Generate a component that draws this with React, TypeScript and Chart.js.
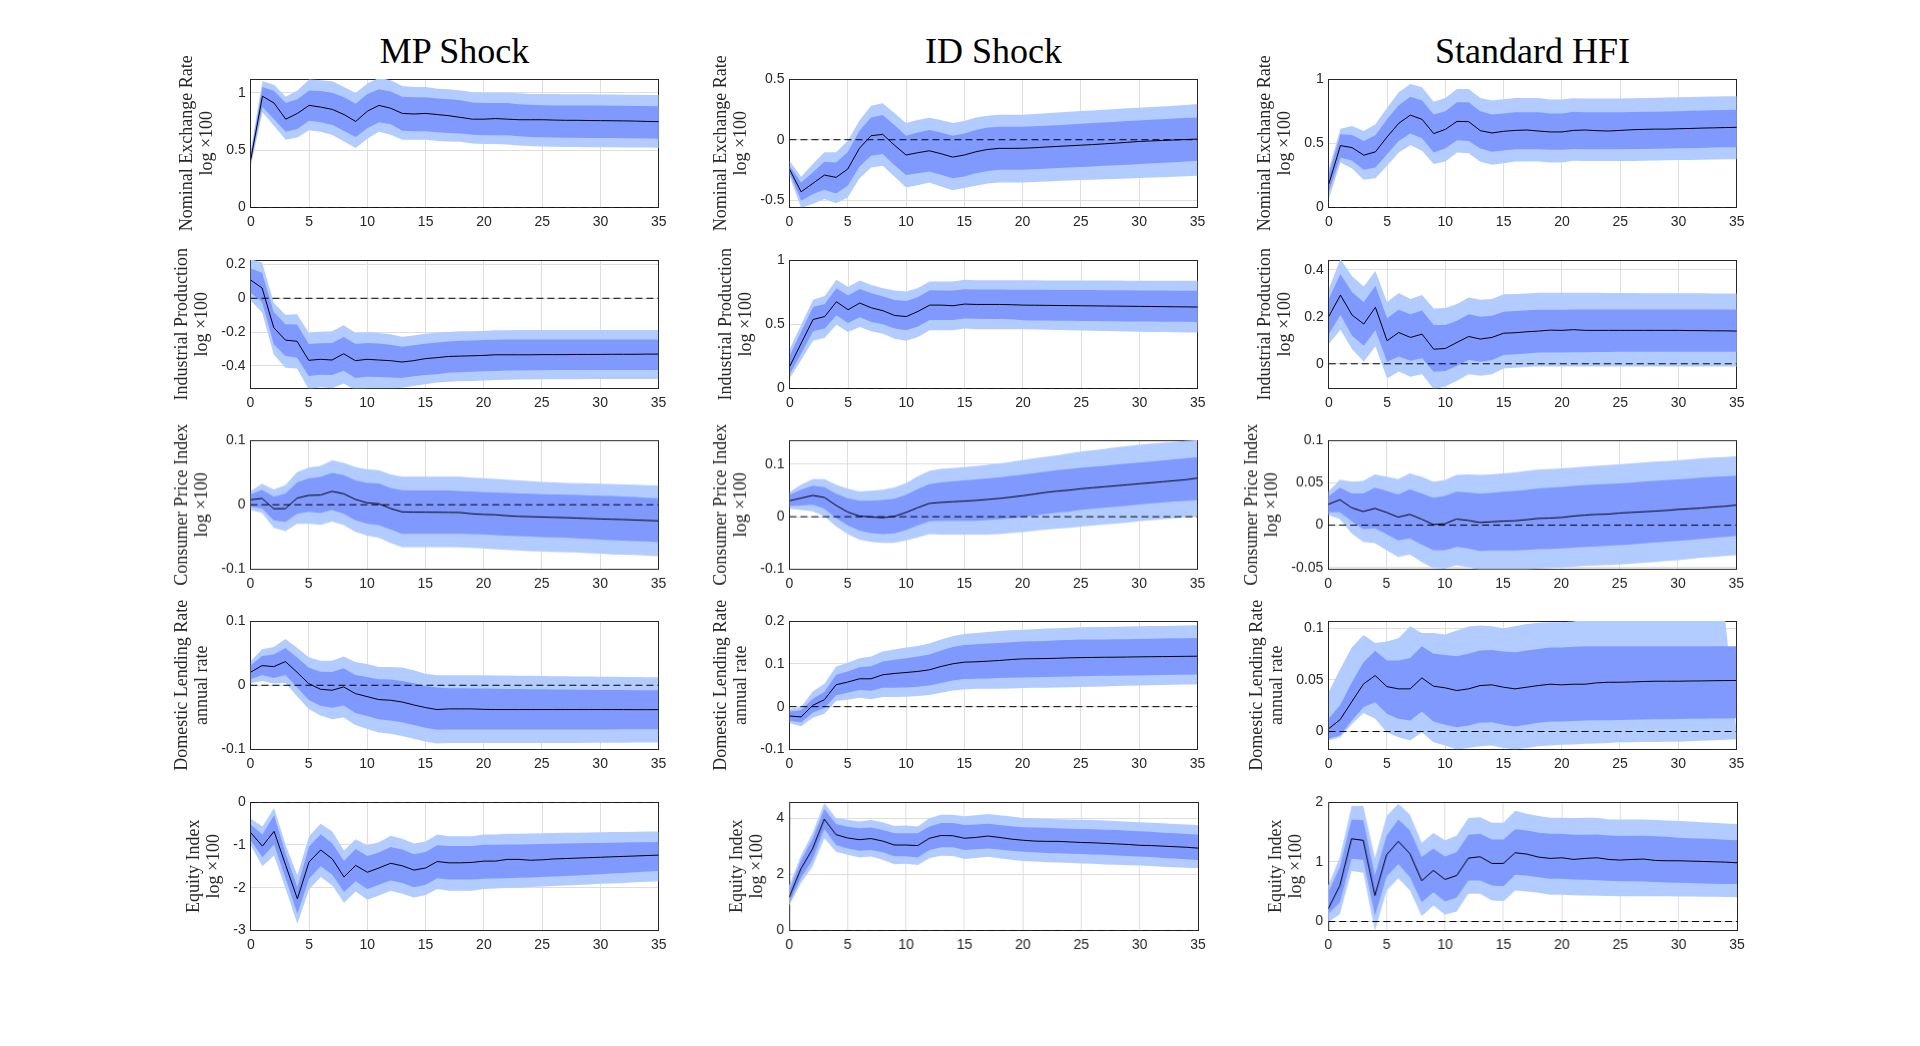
import { useEffect, useRef } from "react";
import { Chart, registerables } from "chart.js";

Chart.register(...registerables);

// horizons (months after the shock)
const HORIZONS = [
  0, 1, 2, 3, 4, 5, 6, 7, 8, 9, 10, 11, 12, 13, 14, 15, 16, 17, 18, 19, 20, 21, 22, 23, 24, 25, 26, 27, 28, 29,
  30, 31, 32, 33, 34, 35,
];

const SHOCKS = ["MP Shock", "ID Shock", "Standard HFI"];

const ROW_LABELS = [
  ["Nominal Exchange Rate", "log \u00d7100"],
  ["Industrial Production", "log \u00d7100"],
  ["Consumer Price Index", "log \u00d7100"],
  ["Domestic Lending Rate", "annual rate"],
  ["Equity Index", "log \u00d7100"],
];

// ---- MP shock ----
const mpNerMid = [
  0.42, 0.97, 0.91, 0.77, 0.82, 0.89, 0.875, 0.855, 0.81, 0.75, 0.84, 0.89,
  0.865, 0.82, 0.815, 0.82, 0.81, 0.8, 0.785, 0.77, 0.77, 0.775, 0.77, 0.765,
  0.765, 0.765, 0.762, 0.76, 0.76, 0.758, 0.757, 0.756, 0.755, 0.753, 0.75, 0.748,
];
const mpNerDarkHi = [
  0.47, 1.05, 1.015, 0.91, 0.944, 1.02, 1.015, 1.0, 0.96, 0.905, 0.99, 1.03,
  1.01, 0.965, 0.96, 0.96, 0.95, 0.944, 0.935, 0.915, 0.91, 0.91, 0.91, 0.9,
  0.895, 0.892, 0.89, 0.89, 0.89, 0.888, 0.888, 0.887, 0.886, 0.885, 0.884, 0.883,
];
const mpNerDarkLo = [
  0.39, 0.876, 0.77, 0.66, 0.685, 0.756, 0.744, 0.72, 0.667, 0.615, 0.69, 0.744,
  0.726, 0.67, 0.665, 0.665, 0.655, 0.65, 0.645, 0.635, 0.63, 0.63, 0.63, 0.62,
  0.615, 0.612, 0.61, 0.608, 0.607, 0.606, 0.605, 0.605, 0.604, 0.603, 0.602, 0.6,
];
const mpNerLightHi = [
  0.5, 1.1, 1.07, 0.965, 1.02, 1.115, 1.11, 1.1, 1.05, 0.997, 1.08, 1.13,
  1.11, 1.06, 1.05, 1.05, 1.035, 1.03, 1.02, 1.005, 1.0, 1.0, 1.0, 0.995,
  0.99, 0.99, 0.99, 0.988, 0.987, 0.986, 0.985, 0.984, 0.983, 0.982, 0.981, 0.98,
];
const mpNerLightLo = [
  0.36, 0.83, 0.71, 0.59, 0.61, 0.673, 0.66, 0.632, 0.576, 0.518, 0.6, 0.66,
  0.635, 0.59, 0.59, 0.59, 0.58, 0.576, 0.572, 0.558, 0.553, 0.553, 0.55, 0.54,
  0.535, 0.532, 0.53, 0.528, 0.527, 0.526, 0.525, 0.525, 0.524, 0.523, 0.522, 0.52,
];

const mpIpMid = [
  0.109, 0.061, -0.174, -0.248, -0.255, -0.368, -0.362, -0.366, -0.329, -0.37, -0.362, -0.366,
  -0.37, -0.378, -0.37, -0.358, -0.352, -0.345, -0.343, -0.341, -0.339, -0.335, -0.335, -0.335,
  -0.335, -0.334, -0.334, -0.334, -0.333, -0.333, -0.333, -0.332, -0.332, -0.332, -0.331, -0.331,
];
const mpIpDarkHi = [
  0.178, 0.152, -0.081, -0.154, -0.156, -0.271, -0.267, -0.265, -0.23, -0.271, -0.265, -0.268,
  -0.275, -0.287, -0.279, -0.269, -0.262, -0.257, -0.252, -0.25, -0.248, -0.246, -0.245, -0.245,
  -0.244, -0.244, -0.244, -0.244, -0.244, -0.244, -0.244, -0.244, -0.244, -0.244, -0.244, -0.244,
];
const mpIpDarkLo = [
  0.034, -0.022, -0.273, -0.343, -0.352, -0.461, -0.453, -0.455, -0.43, -0.473, -0.465, -0.467,
  -0.47, -0.473, -0.463, -0.455, -0.45, -0.441, -0.438, -0.435, -0.433, -0.431, -0.429, -0.428,
  -0.427, -0.427, -0.426, -0.426, -0.426, -0.426, -0.425, -0.425, -0.425, -0.425, -0.425, -0.425,
];
const mpIpLightHi = [
  0.232, 0.212, -0.026, -0.097, -0.095, -0.204, -0.198, -0.196, -0.16, -0.204, -0.202, -0.206,
  -0.214, -0.228, -0.22, -0.21, -0.204, -0.2, -0.196, -0.195, -0.194, -0.19, -0.189, -0.188,
  -0.188, -0.188, -0.188, -0.188, -0.188, -0.188, -0.188, -0.188, -0.188, -0.188, -0.188, -0.188,
];
const mpIpLightLo = [
  -0.012, -0.085, -0.333, -0.412, -0.416, -0.54, -0.527, -0.533, -0.505, -0.545, -0.535, -0.535,
  -0.535, -0.53, -0.52, -0.51, -0.5, -0.495, -0.49, -0.49, -0.488, -0.485, -0.483, -0.482,
  -0.481, -0.48, -0.48, -0.48, -0.48, -0.479, -0.479, -0.479, -0.478, -0.478, -0.478, -0.478,
];

const mpCpiMid = [
  0.0078, 0.0098, -0.0062, -0.006, 0.0103, 0.0145, 0.015, 0.0207, 0.017, 0.0083, 0.003, 0.0016,
  -0.0057, -0.011, -0.0114, -0.0115, -0.0116, -0.0118, -0.012, -0.014, -0.015, -0.0155, -0.017, -0.018,
  -0.0185, -0.019, -0.0195, -0.02, -0.0207, -0.0213, -0.022, -0.0225, -0.023, -0.0237, -0.0243, -0.025,
];
const mpCpiDarkHi = [
  0.016, 0.023, 0.0124, 0.017, 0.0346, 0.041, 0.043, 0.0496, 0.046, 0.0377, 0.034, 0.033,
  0.026, 0.0227, 0.022, 0.022, 0.022, 0.022, 0.021, 0.0205, 0.0196, 0.019, 0.0183, 0.0176,
  0.017, 0.0165, 0.016, 0.0155, 0.015, 0.0145, 0.014, 0.0135, 0.013, 0.012, 0.011, 0.0103,
];
const mpCpiDarkLo = [
  -0.003, -0.0057, -0.024, -0.027, -0.014, -0.011, -0.013, -0.008, -0.014, -0.024, -0.029, -0.0315,
  -0.038, -0.045, -0.045, -0.045, -0.045, -0.045, -0.045, -0.0455, -0.046, -0.047, -0.048, -0.0486,
  -0.049, -0.05, -0.0505, -0.051, -0.052, -0.053, -0.054, -0.055, -0.0555, -0.0565, -0.057, -0.058,
];
const mpCpiLightHi = [
  0.021, 0.0326, 0.0238, 0.0305, 0.0506, 0.0574, 0.06, 0.0687, 0.065, 0.0584, 0.0548, 0.0537,
  0.047, 0.0434, 0.0434, 0.0434, 0.0434, 0.0434, 0.0434, 0.042, 0.0413, 0.04, 0.039, 0.0377,
  0.0365, 0.0355, 0.0345, 0.034, 0.0335, 0.033, 0.0326, 0.032, 0.0315, 0.031, 0.0305, 0.03,
];
const mpCpiLightLo = [
  -0.0078, -0.013, -0.0357, -0.041, -0.0295, -0.029, -0.031, -0.026, -0.0315, -0.042, -0.048, -0.051,
  -0.059, -0.0656, -0.0656, -0.0656, -0.0656, -0.0656, -0.066, -0.067, -0.0677, -0.069, -0.07, -0.071,
  -0.072, -0.0725, -0.073, -0.0735, -0.074, -0.075, -0.076, -0.077, -0.0775, -0.078, -0.079, -0.0796,
];

const mpLendMid = [
  0.0202, 0.0306, 0.029, 0.0368, 0.0202, 0.0026, -0.0062, -0.0078, -0.0026, -0.013, -0.0176, -0.0223,
  -0.0233, -0.026, -0.0306, -0.0347, -0.0378, -0.0368, -0.0368, -0.0368, -0.0375, -0.0378, -0.0378, -0.0378,
  -0.0378, -0.0378, -0.0378, -0.0378, -0.0378, -0.0378, -0.0378, -0.0378, -0.0379, -0.038, -0.038, -0.038,
];
const mpLendDarkHi = [
  0.0306, 0.0456, 0.048, 0.058, 0.043, 0.0275, 0.0212, 0.0207, 0.0264, 0.016, 0.013, 0.0093,
  0.0088, 0.0067, 0.003, -0.001, -0.0036, -0.0047, -0.0047, -0.005, -0.0052, -0.0055, -0.0057, -0.006,
  -0.0062, -0.0064, -0.0066, -0.0068, -0.007, -0.0071, -0.0072, -0.0074, -0.0075, -0.0076, -0.0077, -0.0078,
];
const mpLendDarkLo = [
  0.0093, 0.016, 0.0114, 0.016, -0.003, -0.0228, -0.032, -0.035, -0.0316, -0.043, -0.048, -0.053,
  -0.055, -0.0575, -0.0617, -0.066, -0.0694, -0.069, -0.069, -0.069, -0.069, -0.069, -0.069, -0.069,
  -0.069, -0.069, -0.069, -0.069, -0.069, -0.0688, -0.0688, -0.0687, -0.0686, -0.0685, -0.0685, -0.0684,
];
const mpLendLightHi = [
  0.0368, 0.056, 0.0596, 0.072, 0.0585, 0.0435, 0.038, 0.038, 0.0446, 0.0363, 0.033, 0.0285,
  0.0285, 0.0275, 0.0233, 0.018, 0.0155, 0.0155, 0.0155, 0.0155, 0.0155, 0.015, 0.015, 0.0148,
  0.0146, 0.0144, 0.0142, 0.014, 0.0138, 0.0136, 0.0134, 0.0132, 0.013, 0.0128, 0.0126, 0.0124,
];
const mpLendLightLo = [
  0.003, 0.0067, 0.0026, 0.0036, -0.017, -0.0368, -0.047, -0.053, -0.05, -0.062, -0.068, -0.0736,
  -0.0756, -0.079, -0.0834, -0.0876, -0.0907, -0.09, -0.09, -0.09, -0.09, -0.09, -0.09, -0.09,
  -0.09, -0.09, -0.0898, -0.0898, -0.0897, -0.0896, -0.0895, -0.0894, -0.0893, -0.0892, -0.0891, -0.089,
];

const mpEqMid = [
  -0.717, -1.03, -0.686, -1.48, -2.26, -1.4, -1.12, -1.33, -1.75, -1.48, -1.64, -1.54,
  -1.43, -1.49, -1.59, -1.54, -1.39, -1.42, -1.42, -1.41, -1.38, -1.38, -1.34, -1.34,
  -1.36, -1.35, -1.33, -1.32, -1.31, -1.3, -1.29, -1.28, -1.27, -1.26, -1.25, -1.24,
];
const mpEqDarkHi = [
  -0.53, -0.756, -0.31, -1.21, -1.99, -1.04, -0.75, -0.97, -1.38, -1.1, -1.26, -1.18,
  -1.05, -1.11, -1.22, -1.17, -1.01, -1.03, -1.03, -1.03, -1.0, -1.0, -0.99, -0.99,
  -0.985, -0.98, -0.975, -0.97, -0.965, -0.96, -0.955, -0.95, -0.945, -0.94, -0.938, -0.935,
];
const mpEqDarkLo = [
  -0.9, -1.29, -0.99, -1.79, -2.61, -1.79, -1.5, -1.7, -2.1, -1.85, -2.03, -1.93,
  -1.83, -1.89, -1.99, -1.93, -1.78, -1.81, -1.81, -1.81, -1.79, -1.785, -1.78, -1.77,
  -1.76, -1.75, -1.74, -1.73, -1.715, -1.7, -1.685, -1.67, -1.655, -1.64, -1.625, -1.61,
];
const mpEqLightHi = [
  -0.39, -0.57, -0.14, -1.01, -1.71, -0.8, -0.51, -0.69, -1.13, -0.87, -1.01, -0.94,
  -0.79, -0.86, -0.97, -0.92, -0.76, -0.8, -0.8, -0.8, -0.76, -0.76, -0.74, -0.74,
  -0.735, -0.73, -0.725, -0.72, -0.715, -0.71, -0.705, -0.7, -0.7, -0.695, -0.69, -0.69,
];
const mpEqLightLo = [
  -1.01, -1.5, -1.25, -2.03, -2.84, -2.04, -1.75, -1.95, -2.35, -2.09, -2.28, -2.18,
  -2.07, -2.14, -2.23, -2.17, -2.03, -2.07, -2.07, -2.07, -2.03, -2.02, -2.01, -2.0,
  -1.985, -1.97, -1.96, -1.95, -1.94, -1.925, -1.91, -1.9, -1.89, -1.875, -1.86, -1.85,
];

// ---- ID shock ----
const idNerMid = [
  -0.242, -0.429, -0.36, -0.291, -0.31, -0.242, -0.071, 0.033, 0.044, -0.044, -0.126, -0.107,
  -0.091, -0.115, -0.143, -0.126, -0.099, -0.08, -0.071, -0.071, -0.07, -0.066, -0.06, -0.055,
  -0.05, -0.045, -0.04, -0.034, -0.028, -0.021, -0.014, -0.01, -0.006, -0.002, 0.002, 0.005,
];
const idNerDarkHi = [
  -0.214, -0.352, -0.27, -0.181, -0.187, -0.104, 0.074, 0.184, 0.203, 0.121, 0.033, 0.06,
  0.08, 0.06, 0.033, 0.052, 0.08, 0.1, 0.107, 0.107, 0.107, 0.11, 0.115, 0.12,
  0.126, 0.132, 0.137, 0.142, 0.148, 0.154, 0.159, 0.164, 0.169, 0.174, 0.179, 0.184,
];
const idNerDarkLo = [
  -0.27, -0.503, -0.448, -0.412, -0.442, -0.379, -0.223, -0.132, -0.118, -0.209, -0.291, -0.277,
  -0.261, -0.288, -0.318, -0.302, -0.277, -0.258, -0.247, -0.247, -0.247, -0.243, -0.238, -0.233,
  -0.229, -0.225, -0.22, -0.215, -0.21, -0.205, -0.2, -0.195, -0.19, -0.185, -0.18, -0.176,
];
const idNerLightHi = [
  -0.173, -0.305, -0.2, -0.104, -0.104, -0.008, 0.157, 0.28, 0.3, 0.22, 0.137, 0.162,
  0.181, 0.162, 0.137, 0.154, 0.184, 0.198, 0.206, 0.206, 0.206, 0.212, 0.218, 0.225,
  0.23, 0.236, 0.241, 0.247, 0.253, 0.259, 0.264, 0.269, 0.274, 0.279, 0.286, 0.294,
];
const idNerLightLo = [
  -0.297, -0.56, -0.53, -0.489, -0.522, -0.475, -0.319, -0.228, -0.214, -0.302, -0.393, -0.374,
  -0.352, -0.385, -0.415, -0.398, -0.379, -0.36, -0.352, -0.352, -0.352, -0.348, -0.344, -0.34,
  -0.336, -0.332, -0.329, -0.326, -0.323, -0.32, -0.316, -0.312, -0.308, -0.304, -0.3, -0.297,
];

const idIpMid = [
  0.173, 0.356, 0.537, 0.56, 0.675, 0.613, 0.665, 0.628, 0.605, 0.568, 0.56, 0.6,
  0.649, 0.649, 0.644, 0.657, 0.654, 0.654, 0.654, 0.652, 0.649, 0.648, 0.647, 0.646,
  0.645, 0.644, 0.643, 0.642, 0.641, 0.64, 0.639, 0.638, 0.637, 0.636, 0.635, 0.634,
];
const idIpDarkHi = [
  0.257, 0.448, 0.634, 0.657, 0.78, 0.723, 0.775, 0.741, 0.715, 0.688, 0.68, 0.712,
  0.764, 0.762, 0.762, 0.772, 0.77, 0.77, 0.77, 0.769, 0.769, 0.768, 0.768, 0.767,
  0.767, 0.766, 0.766, 0.765, 0.764, 0.764, 0.763, 0.762, 0.762, 0.761, 0.76, 0.76,
];
const idIpDarkLo = [
  0.113, 0.275, 0.445, 0.466, 0.571, 0.51, 0.555, 0.518, 0.5, 0.466, 0.453, 0.482,
  0.534, 0.534, 0.534, 0.545, 0.542, 0.541, 0.54, 0.538, 0.531, 0.53, 0.529, 0.528,
  0.527, 0.526, 0.525, 0.524, 0.523, 0.522, 0.521, 0.521, 0.52, 0.519, 0.519, 0.518,
];
const idIpLightHi = [
  0.309, 0.5, 0.691, 0.72, 0.846, 0.79, 0.84, 0.806, 0.78, 0.762, 0.754, 0.783,
  0.832, 0.832, 0.832, 0.846, 0.843, 0.843, 0.843, 0.842, 0.842, 0.842, 0.841, 0.841,
  0.841, 0.84, 0.84, 0.84, 0.84, 0.839, 0.839, 0.839, 0.838, 0.838, 0.838, 0.838,
];
const idIpLightLo = [
  0.079, 0.225, 0.372, 0.395, 0.497, 0.44, 0.479, 0.445, 0.427, 0.387, 0.372, 0.4,
  0.453, 0.453, 0.453, 0.466, 0.461, 0.461, 0.461, 0.461, 0.461, 0.459, 0.457, 0.455,
  0.453, 0.451, 0.449, 0.447, 0.445, 0.443, 0.441, 0.44, 0.439, 0.437, 0.436, 0.435,
];

const idCpiMid = [
  0.0304, 0.0354, 0.0405, 0.0367, 0.0215, 0.0089, 0.0013, -0.0006, -0.0019, 0.0006, 0.0082, 0.0171,
  0.0253, 0.0272, 0.0285, 0.0297, 0.031, 0.0329, 0.0348, 0.0373, 0.0399, 0.043, 0.0462, 0.0487,
  0.0506, 0.0532, 0.0551, 0.057, 0.0589, 0.0608, 0.0627, 0.0646, 0.0665, 0.0684, 0.0703, 0.0734,
];
const idCpiDarkHi = [
  0.0418, 0.0513, 0.0589, 0.0563, 0.0437, 0.0354, 0.0304, 0.0304, 0.0316, 0.0342, 0.0418, 0.0525,
  0.062, 0.0652, 0.067, 0.069, 0.071, 0.0728, 0.075, 0.0775, 0.08, 0.083, 0.086, 0.0885,
  0.0905, 0.093, 0.095, 0.097, 0.099, 0.101, 0.103, 0.105, 0.107, 0.109, 0.111, 0.113,
];
const idCpiDarkLo = [
  0.0203, 0.0215, 0.0228, 0.0152, -0.0025, -0.0165, -0.0266, -0.031, -0.0329, -0.0316, -0.0253, -0.0165,
  -0.0089, -0.0076, -0.0076, -0.0076, -0.0076, -0.0065, -0.005, -0.003, -0.001, 0.002, 0.005, 0.008,
  0.01, 0.013, 0.015, 0.017, 0.019, 0.021, 0.023, 0.025, 0.027, 0.029, 0.03, 0.032,
];
const idCpiLightHi = [
  0.0468, 0.0608, 0.0715, 0.0715, 0.0608, 0.0532, 0.0481, 0.0494, 0.0513, 0.0557, 0.0639, 0.0766,
  0.0873, 0.0911, 0.0925, 0.0943, 0.0965, 0.0987, 0.101, 0.1045, 0.108, 0.111, 0.114, 0.117,
  0.1205, 0.124, 0.1265, 0.129, 0.132, 0.1345, 0.137, 0.1388, 0.1405, 0.142, 0.144, 0.1455,
];
const idCpiLightLo = [
  0.0152, 0.0127, 0.0101, 0.0006, -0.0184, -0.0329, -0.0437, -0.0481, -0.05, -0.05, -0.0449, -0.0392,
  -0.0329, -0.0342, -0.0342, -0.0342, -0.0342, -0.0342, -0.0329, -0.031, -0.0291, -0.0268, -0.0247, -0.0228,
  -0.021, -0.019, -0.017, -0.015, -0.013, -0.011, -0.009, -0.007, -0.005, -0.003, -0.001, 0.001,
];

const idLendMid = [
  -0.0217, -0.024, 0.0031, 0.0163, 0.0512, 0.0574, 0.0651, 0.0651, 0.0744, 0.0775, 0.0798, 0.0822,
  0.086, 0.0938, 0.1, 0.1039, 0.1047, 0.1062, 0.1078, 0.11, 0.1116, 0.112, 0.1124, 0.113,
  0.114, 0.1145, 0.115, 0.1153, 0.1155, 0.1159, 0.1163, 0.1166, 0.1169, 0.1172, 0.1175, 0.1178,
];
const idLendDarkHi = [
  -0.011, -0.0085, 0.0186, 0.0341, 0.0744, 0.0822, 0.0922, 0.0946, 0.1054, 0.1093, 0.1132, 0.117,
  0.1217, 0.131, 0.1395, 0.1442, 0.1457, 0.1473, 0.1488, 0.1505, 0.1519, 0.1527, 0.1535, 0.155,
  0.1558, 0.1566, 0.1568, 0.157, 0.1573, 0.1576, 0.158, 0.1585, 0.159, 0.1595, 0.16, 0.1605,
];
const idLendDarkLo = [
  -0.0326, -0.0372, -0.014, -0.0031, 0.0264, 0.0326, 0.0388, 0.0372, 0.0442, 0.0442, 0.045, 0.0465,
  0.0496, 0.055, 0.0612, 0.0643, 0.065, 0.0658, 0.0667, 0.0675, 0.0682, 0.0688, 0.0694, 0.07,
  0.0706, 0.0713, 0.0716, 0.0719, 0.0722, 0.0726, 0.0729, 0.0734, 0.0738, 0.0743, 0.0748, 0.0752,
];
const idLendLightHi = [
  -0.0047, -0.0008, 0.0357, 0.0535, 0.0938, 0.1023, 0.1132, 0.117, 0.1287, 0.1333, 0.138, 0.1419,
  0.1473, 0.1566, 0.1643, 0.1698, 0.1721, 0.1744, 0.1767, 0.1783, 0.1798, 0.181, 0.1822, 0.1833,
  0.1843, 0.1853, 0.1858, 0.1862, 0.1867, 0.1871, 0.1876, 0.1881, 0.1886, 0.189, 0.1895, 0.19,
];
const idLendLightLo = [
  -0.0388, -0.0457, -0.0256, -0.0163, 0.0132, 0.0163, 0.0209, 0.0171, 0.0225, 0.0225, 0.0233, 0.0248,
  0.0271, 0.0326, 0.038, 0.0403, 0.0419, 0.0419, 0.0419, 0.0426, 0.0434, 0.0439, 0.0443, 0.0448,
  0.0452, 0.0457, 0.0465, 0.0473, 0.048, 0.0488, 0.0496, 0.0501, 0.0505, 0.051, 0.0515, 0.0519,
];

const idEqMid = [
  1.18, 2.19, 2.9, 3.96, 3.41, 3.29, 3.23, 3.27, 3.18, 3.04, 3.04, 3.02,
  3.28, 3.38, 3.37, 3.28, 3.31, 3.36, 3.31, 3.25, 3.21, 3.18, 3.17, 3.17,
  3.15, 3.13, 3.12, 3.1, 3.08, 3.06, 3.03, 3.02, 3.0, 2.98, 2.96, 2.93,
];
const idEqDarkHi = [
  1.42, 2.49, 3.25, 4.32, 3.79, 3.69, 3.64, 3.66, 3.57, 3.46, 3.46, 3.46,
  3.7, 3.82, 3.82, 3.75, 3.77, 3.8, 3.75, 3.71, 3.67, 3.66, 3.65, 3.64,
  3.62, 3.61, 3.6, 3.58, 3.57, 3.55, 3.53, 3.51, 3.48, 3.46, 3.43, 3.41,
];
const idEqDarkLo = [
  0.98, 1.87, 2.52, 3.61, 3.04, 2.92, 2.84, 2.86, 2.78, 2.64, 2.64, 2.6,
  2.86, 2.96, 2.96, 2.86, 2.89, 2.92, 2.88, 2.84, 2.8, 2.78, 2.76, 2.75,
  2.73, 2.72, 2.7, 2.69, 2.67, 2.65, 2.63, 2.61, 2.58, 2.56, 2.53, 2.51,
];
const idEqLightHi = [
  1.6, 2.66, 3.47, 4.53, 4.0, 3.94, 3.88, 3.93, 3.85, 3.72, 3.73, 3.7,
  3.99, 4.12, 4.12, 4.06, 4.1, 4.14, 4.1, 4.05, 4.0, 3.98, 3.97, 3.96,
  3.95, 3.94, 3.93, 3.91, 3.89, 3.87, 3.85, 3.83, 3.81, 3.79, 3.77, 3.75,
];
const idEqLightLo = [
  0.89, 1.69, 2.28, 3.28, 2.8, 2.69, 2.6, 2.63, 2.52, 2.36, 2.37, 2.33,
  2.57, 2.66, 2.65, 2.54, 2.58, 2.62, 2.57, 2.52, 2.47, 2.45, 2.43, 2.42,
  2.4, 2.38, 2.37, 2.35, 2.34, 2.32, 2.31, 2.29, 2.27, 2.25, 2.23, 2.21,
];

// ---- Standard HFI ----
const hfiNerMid = [
  0.183, 0.482, 0.466, 0.407, 0.433, 0.549, 0.655, 0.719, 0.686, 0.575, 0.608, 0.67,
  0.668, 0.598, 0.58, 0.593, 0.6, 0.603, 0.595, 0.588, 0.588, 0.6, 0.603, 0.598,
  0.595, 0.6, 0.605, 0.608, 0.61, 0.61, 0.613, 0.615, 0.618, 0.62, 0.622, 0.624,
];
const hfiNerDarkHi = [
  0.26, 0.57, 0.564, 0.518, 0.562, 0.686, 0.796, 0.861, 0.832, 0.724, 0.75, 0.82,
  0.82, 0.75, 0.724, 0.732, 0.742, 0.742, 0.742, 0.732, 0.732, 0.745, 0.742, 0.742,
  0.742, 0.742, 0.744, 0.745, 0.746, 0.748, 0.75, 0.752, 0.754, 0.756, 0.758, 0.76,
];
const hfiNerDarkLo = [
  0.118, 0.389, 0.363, 0.294, 0.312, 0.415, 0.518, 0.575, 0.539, 0.428, 0.459, 0.523,
  0.518, 0.459, 0.433, 0.443, 0.454, 0.454, 0.454, 0.449, 0.449, 0.456, 0.454, 0.454,
  0.454, 0.454, 0.455, 0.456, 0.457, 0.459, 0.461, 0.462, 0.464, 0.466, 0.468, 0.469,
];
const hfiNerLightHi = [
  0.299, 0.613, 0.634, 0.595, 0.647, 0.776, 0.897, 0.961, 0.936, 0.822, 0.853, 0.923,
  0.923, 0.853, 0.832, 0.843, 0.853, 0.853, 0.853, 0.84, 0.84, 0.85, 0.848, 0.848,
  0.848, 0.848, 0.85, 0.852, 0.854, 0.856, 0.858, 0.86, 0.861, 0.863, 0.865, 0.866,
];
const hfiNerLightLo = [
  0.067, 0.351, 0.304, 0.216, 0.227, 0.325, 0.428, 0.485, 0.441, 0.338, 0.358, 0.428,
  0.423, 0.356, 0.332, 0.345, 0.358, 0.358, 0.358, 0.351, 0.351, 0.363, 0.361, 0.361,
  0.361, 0.361, 0.362, 0.364, 0.365, 0.367, 0.369, 0.37, 0.372, 0.373, 0.375, 0.376,
];

const hfiIpMid = [
  0.201, 0.292, 0.207, 0.169, 0.24, 0.098, 0.133, 0.112, 0.126, 0.062, 0.065, 0.091,
  0.116, 0.105, 0.112, 0.13, 0.132, 0.136, 0.139, 0.143, 0.142, 0.145, 0.142, 0.142,
  0.142, 0.142, 0.142, 0.142, 0.142, 0.142, 0.142, 0.141, 0.141, 0.14, 0.14, 0.139,
];
const hfiIpDarkHi = [
  0.275, 0.382, 0.304, 0.261, 0.332, 0.193, 0.23, 0.211, 0.226, 0.165, 0.165, 0.183,
  0.21, 0.2, 0.204, 0.221, 0.224, 0.227, 0.23, 0.23, 0.23, 0.231, 0.231, 0.231,
  0.231, 0.231, 0.231, 0.231, 0.231, 0.231, 0.231, 0.231, 0.231, 0.231, 0.231, 0.231,
];
const hfiIpDarkLo = [
  0.126, 0.207, 0.119, 0.077, 0.143, 0.0085, 0.031, 0.013, 0.024, -0.034, -0.031, -0.0085,
  0.017, 0.0085, 0.0156, 0.037, 0.04, 0.044, 0.048, 0.048, 0.048, 0.049, 0.049, 0.05,
  0.05, 0.051, 0.051, 0.051, 0.051, 0.051, 0.051, 0.051, 0.051, 0.051, 0.051, 0.051,
];
const hfiIpLightHi = [
  0.318, 0.445, 0.372, 0.328, 0.394, 0.261, 0.301, 0.275, 0.292, 0.235, 0.237, 0.254,
  0.282, 0.272, 0.275, 0.295, 0.297, 0.299, 0.302, 0.302, 0.302, 0.302, 0.302, 0.302,
  0.301, 0.301, 0.301, 0.3, 0.3, 0.3, 0.3, 0.3, 0.3, 0.299, 0.299, 0.299,
];
const hfiIpLightLo = [
  0.084, 0.145, 0.062, 0.0085, 0.074, -0.062, -0.033, -0.055, -0.044, -0.108, -0.096, -0.072,
  -0.044, -0.051, -0.044, -0.02, -0.017, -0.014, -0.011, -0.011, -0.011, -0.011, -0.011, -0.011,
  -0.011, -0.011, -0.011, -0.011, -0.011, -0.011, -0.011, -0.011, -0.011, -0.011, -0.011, -0.011,
];

const hfiCpiMid = [
  0.0244, 0.0299, 0.0205, 0.0161, 0.0197, 0.015, 0.0094, 0.0126, 0.0071, 0.0008, 0.0016, 0.0071,
  0.0055, 0.0031, 0.0039, 0.0047, 0.0051, 0.0063, 0.0079, 0.0083, 0.009, 0.0106, 0.0118, 0.0126,
  0.013, 0.0142, 0.015, 0.0157, 0.0165, 0.0173, 0.0185, 0.0193, 0.0201, 0.0213, 0.0221, 0.0236,
];
const hfiCpiDarkHi = [
  0.0335, 0.0441, 0.0374, 0.0374, 0.0441, 0.0402, 0.0362, 0.0421, 0.0374, 0.0323, 0.0343, 0.0394,
  0.0386, 0.037, 0.0378, 0.0394, 0.0402, 0.0413, 0.0433, 0.0441, 0.0449, 0.0461, 0.0472, 0.0479,
  0.0485, 0.0492, 0.0501, 0.0511, 0.052, 0.053, 0.0539, 0.0549, 0.0559, 0.0567, 0.0575, 0.0583,
];
const hfiCpiDarkLo = [
  0.015, 0.015, 0.0047, -0.0047, -0.0039, -0.0106, -0.0181, -0.0157, -0.0228, -0.0295, -0.0295, -0.0256,
  -0.0276, -0.0303, -0.0299, -0.0299, -0.0299, -0.0291, -0.0283, -0.028, -0.0276, -0.0266, -0.0256, -0.025,
  -0.0243, -0.0236, -0.0226, -0.0216, -0.0205, -0.0195, -0.0185, -0.0173, -0.0161, -0.015, -0.0138, -0.0126,
];
const hfiCpiLightHi = [
  0.0394, 0.0535, 0.0512, 0.052, 0.0598, 0.0571, 0.0543, 0.061, 0.0571, 0.0512, 0.0531, 0.0591,
  0.0598, 0.0591, 0.0598, 0.061, 0.0622, 0.0638, 0.0654, 0.0661, 0.0669, 0.0679, 0.0689, 0.0698,
  0.0708, 0.0717, 0.0727, 0.0738, 0.0748, 0.0756, 0.0764, 0.0776, 0.0787, 0.0795, 0.0803, 0.0811,
];
const hfiCpiLightLo = [
  0.0118, 0.0071, -0.0098, -0.0197, -0.0213, -0.0295, -0.0374, -0.0346, -0.0433, -0.0504, -0.0512, -0.0472,
  -0.0492, -0.0528, -0.0528, -0.0528, -0.0528, -0.0528, -0.0512, -0.0506, -0.05, -0.049, -0.048, -0.0475,
  -0.047, -0.0465, -0.0455, -0.0444, -0.0433, -0.0423, -0.0413, -0.0398, -0.0383, -0.0374, -0.0364, -0.0354,
];

const hfiLendMid = [
  0.0026, 0.0116, 0.029, 0.0461, 0.0542, 0.0435, 0.0413, 0.0413, 0.0519, 0.0439, 0.0423, 0.0397,
  0.0413, 0.0445, 0.0452, 0.0429, 0.0413, 0.0429, 0.0445, 0.0458, 0.0452, 0.0458, 0.0458, 0.0471,
  0.0477, 0.0477, 0.048, 0.0484, 0.0487, 0.0487, 0.0487, 0.0489, 0.049, 0.0492, 0.0493, 0.0494,
];
const hfiLendDarkHi = [
  0.0123, 0.0258, 0.0477, 0.0671, 0.0781, 0.0687, 0.0687, 0.0713, 0.0826, 0.0752, 0.0742, 0.0729,
  0.0752, 0.0784, 0.079, 0.0774, 0.0768, 0.0784, 0.08, 0.0813, 0.0813, 0.082, 0.0826, 0.0826,
  0.0826, 0.0826, 0.0826, 0.0826, 0.0826, 0.0826, 0.0826, 0.0826, 0.0826, 0.0826, 0.0826, 0.0826,
];
const hfiLendDarkLo = [
  -0.0071, -0.0039, 0.0106, 0.0235, 0.0284, 0.0171, 0.0123, 0.0106, 0.0194, 0.0097, 0.0065, 0.0042,
  0.0058, 0.0084, 0.009, 0.0065, 0.0048, 0.0065, 0.0084, 0.0097, 0.0097, 0.0102, 0.0106, 0.0108,
  0.011, 0.0112, 0.0114, 0.0116, 0.0118, 0.012, 0.0121, 0.0123, 0.0124, 0.0126, 0.0127, 0.0129,
];
const hfiLendLightHi = [
  0.0381, 0.0606, 0.0816, 0.0935, 0.0858, 0.0871, 0.0903, 0.1019, 0.0955, 0.0955, 0.0939, 0.0977,
  0.1016, 0.1026, 0.1019, 0.1, 0.1019, 0.1042, 0.1052, 0.1058, 0.1058, 0.1065, 0.109, 0.109,
  0.109, 0.109, 0.11, 0.11, 0.11, 0.11, 0.11, 0.11, 0.11, 0.11, 0.112, 0.0,
];
const hfiLendLightLo = [
  -0.0087, -0.0055, 0.0074, 0.018, 0.0123, -0.0006, -0.0055, -0.0087, -0.0006, -0.0103, -0.0135, -0.0174,
  -0.016, -0.0142, -0.0135, -0.016, -0.0174, -0.016, -0.0142, -0.0135, -0.0129, -0.0126, -0.0119, -0.0116,
  -0.011, -0.0103, -0.0103, -0.0102, -0.0101, -0.01, -0.0099, -0.0095, -0.009, -0.0085, -0.008, -0.0077,
];

const hfiEqMid = [
  0.212, 0.603, 1.385, 1.358, 0.436, 1.117, 1.341, 1.134, 0.682, 0.855, 0.704, 0.771,
  1.061, 1.084, 0.972, 0.972, 1.151, 1.128, 1.078, 1.056, 1.067, 1.039, 1.056, 1.067,
  1.039, 1.028, 1.039, 1.045, 1.022, 1.017, 1.017, 1.011, 1.006, 1.0, 0.994, 0.983,
];
const hfiEqDarkHi = [
  0.492, 0.911, 1.709, 1.693, 0.771, 1.441, 1.709, 1.525, 1.078, 1.218, 1.089, 1.162,
  1.453, 1.469, 1.374, 1.374, 1.542, 1.525, 1.486, 1.469, 1.469, 1.453, 1.453, 1.458,
  1.441, 1.43, 1.436, 1.436, 1.425, 1.418, 1.402, 1.395, 1.388, 1.38, 1.37, 1.358,
];
const hfiEqDarkLo = [
  0.128, 0.324, 1.05, 1.034, 0.1, 0.754, 0.961, 0.743, 0.324, 0.492, 0.335, 0.402,
  0.687, 0.687, 0.603, 0.592, 0.782, 0.771, 0.743, 0.715, 0.715, 0.705, 0.698, 0.69,
  0.683, 0.676, 0.672, 0.668, 0.663, 0.655, 0.648, 0.643, 0.638, 0.634, 0.63, 0.626,
];
const hfiEqLightHi = [
  0.603, 1.078, 1.933, 1.933, 1.061, 1.765, 1.972, 1.788, 1.318, 1.48, 1.358, 1.441,
  1.732, 1.743, 1.654, 1.654, 1.855, 1.804, 1.765, 1.737, 1.737, 1.732, 1.737, 1.737,
  1.709, 1.709, 1.709, 1.709, 1.7, 1.69, 1.682, 1.672, 1.662, 1.651, 1.641, 1.631,
];
const hfiEqLightLo = [
  -0.01, 0.128, 0.844, 0.816, -0.16, 0.52, 0.726, 0.52, 0.089, 0.268, 0.112, 0.168,
  0.464, 0.464, 0.352, 0.341, 0.52, 0.503, 0.48, 0.447, 0.447, 0.441, 0.436, 0.432,
  0.429, 0.425, 0.425, 0.424, 0.423, 0.422, 0.42, 0.418, 0.415, 0.413, 0.41, 0.408,
];

type PanelSpec = {
  row: number;
  col: number;
  yMin: number;
  yMax: number;
  yTicks: number[];
  mid: number[];
  darkLo: number[];
  darkHi: number[];
  lightLo: number[];
  lightHi: number[];
};

const PANELS: PanelSpec[] = [
  { row: 0, col: 0, yMin: 0, yMax: 1.12, yTicks: [0, 0.5, 1], mid: mpNerMid, darkLo: mpNerDarkLo, darkHi: mpNerDarkHi, lightLo: mpNerLightLo, lightHi: mpNerLightHi },
  { row: 1, col: 0, yMin: -0.535, yMax: 0.227, yTicks: [-0.4, -0.2, 0, 0.2], mid: mpIpMid, darkLo: mpIpDarkLo, darkHi: mpIpDarkHi, lightLo: mpIpLightLo, lightHi: mpIpLightHi },
  { row: 2, col: 0, yMin: -0.1, yMax: 0.1, yTicks: [-0.1, 0, 0.1], mid: mpCpiMid, darkLo: mpCpiDarkLo, darkHi: mpCpiDarkHi, lightLo: mpCpiLightLo, lightHi: mpCpiLightHi },
  { row: 3, col: 0, yMin: -0.1, yMax: 0.1, yTicks: [-0.1, 0, 0.1], mid: mpLendMid, darkLo: mpLendDarkLo, darkHi: mpLendDarkHi, lightLo: mpLendLightLo, lightHi: mpLendLightHi },
  { row: 4, col: 0, yMin: -3, yMax: 0, yTicks: [-3, -2, -1, 0], mid: mpEqMid, darkLo: mpEqDarkLo, darkHi: mpEqDarkHi, lightLo: mpEqLightLo, lightHi: mpEqLightHi },
  { row: 0, col: 1, yMin: -0.558, yMax: 0.5, yTicks: [-0.5, 0, 0.5], mid: idNerMid, darkLo: idNerDarkLo, darkHi: idNerDarkHi, lightLo: idNerLightLo, lightHi: idNerLightHi },
  { row: 1, col: 1, yMin: 0, yMax: 1, yTicks: [0, 0.5, 1], mid: idIpMid, darkLo: idIpDarkLo, darkHi: idIpDarkHi, lightLo: idIpLightLo, lightHi: idIpLightHi },
  { row: 2, col: 1, yMin: -0.1, yMax: 0.1455, yTicks: [-0.1, 0, 0.1], mid: idCpiMid, darkLo: idCpiDarkLo, darkHi: idCpiDarkHi, lightLo: idCpiLightLo, lightHi: idCpiLightHi },
  { row: 3, col: 1, yMin: -0.1, yMax: 0.2, yTicks: [-0.1, 0, 0.1, 0.2], mid: idLendMid, darkLo: idLendDarkLo, darkHi: idLendDarkHi, lightLo: idLendLightLo, lightHi: idLendLightHi },
  { row: 4, col: 1, yMin: 0, yMax: 4.57, yTicks: [0, 2, 4], mid: idEqMid, darkLo: idEqDarkLo, darkHi: idEqDarkHi, lightLo: idEqLightLo, lightHi: idEqLightHi },
  { row: 0, col: 2, yMin: 0, yMax: 1, yTicks: [0, 0.5, 1], mid: hfiNerMid, darkLo: hfiNerDarkLo, darkHi: hfiNerDarkHi, lightLo: hfiNerLightLo, lightHi: hfiNerLightHi },
  { row: 1, col: 2, yMin: -0.105, yMax: 0.441, yTicks: [0, 0.2, 0.4], mid: hfiIpMid, darkLo: hfiIpDarkLo, darkHi: hfiIpDarkHi, lightLo: hfiIpLightLo, lightHi: hfiIpLightHi },
  { row: 2, col: 2, yMin: -0.052, yMax: 0.1, yTicks: [-0.05, 0, 0.05, 0.1], mid: hfiCpiMid, darkLo: hfiCpiDarkLo, darkHi: hfiCpiDarkHi, lightLo: hfiCpiLightLo, lightHi: hfiCpiLightHi },
  { row: 3, col: 2, yMin: -0.0174, yMax: 0.107, yTicks: [0, 0.05, 0.1], mid: hfiLendMid, darkLo: hfiLendDarkLo, darkHi: hfiLendDarkHi, lightLo: hfiLendLightLo, lightHi: hfiLendLightHi },
  { row: 4, col: 2, yMin: -0.15, yMax: 2, yTicks: [0, 1, 2], mid: hfiEqMid, darkLo: hfiEqDarkLo, darkHi: hfiEqDarkHi, lightLo: hfiEqLightLo, lightHi: hfiEqLightHi },
];

// subplot boxes on the page
const COL_LEFT = [250.5, 789.5, 1328.5];
const ROW_TOP = [78.5, 259.5, 440.3, 620.8, 801.5];
const PLOT_W = 408;
const PLOT_H = 128.5;

const LIGHT = "#b3ccff";
const DARK = "#8099ff";
const AXIS = "#262626";
const GRID = "#dedede";
const SANS = "'Liberation Sans', Arial, Helvetica, sans-serif";
const SERIF = "'Liberation Serif', 'Times New Roman', serif";

const toXY = (vals: number[]) => vals.map((y, i) => ({ x: HORIZONS[i], y }));

const Panel = ({ spec }: { spec: PanelSpec }) => {
  const wrapRef = useRef<HTMLDivElement | null>(null);
  const canvasRef = useRef<HTMLCanvasElement | null>(null);

  useEffect(() => {
    const wrap = wrapRef.current;
    const canvas = canvasRef.current;
    if (!wrap || !canvas) return;

    const hidden = { borderWidth: 0, borderColor: "transparent", pointRadius: 0 };
    const tickFont = { family: SANS, size: 14 };

    const chart = new Chart(canvas, {
      type: "line",
      data: {
        datasets: [
          { data: toXY(spec.lightHi), ...hidden, fill: false, order: 6 },
          { data: toXY(spec.lightLo), ...hidden, fill: "-1", backgroundColor: LIGHT, order: 5 },
          { data: toXY(spec.darkHi), ...hidden, fill: false, order: 4 },
          { data: toXY(spec.darkLo), ...hidden, fill: "-1", backgroundColor: DARK, order: 3 },
          {
            data: [
              { x: HORIZONS[0], y: 0 },
              { x: HORIZONS[HORIZONS.length - 1], y: 0 },
            ],
            borderColor: "#000",
            borderWidth: 1,
            borderDash: [7, 4],
            pointRadius: 0,
            fill: false,
            order: 1,
          },
          { data: toXY(spec.mid), borderColor: "#000", borderWidth: 1, pointRadius: 0, fill: false, order: 0 },
        ],
      },
      options: {
        animation: false,
        responsive: true,
        maintainAspectRatio: false,
        events: [],
        // room above/below so the long rotated y titles are not cut by the canvas
        layout: { padding: { top: 34, right: 2, left: 0, bottom: 14 } },
        elements: { line: { tension: 0 } },
        plugins: { legend: { display: false }, tooltip: { enabled: false } },
        scales: {
          x: {
            type: "linear",
            min: HORIZONS[0],
            max: HORIZONS[HORIZONS.length - 1],
            ticks: {
              stepSize: 5,
              padding: 6,
              color: AXIS,
              font: tickFont,
              maxRotation: 0,
              autoSkip: false,
              callback: (v) => String(v),
            },
            grid: { color: GRID, lineWidth: 1, drawTicks: false },
            border: { display: true, color: AXIS, width: 1 },
          },
          y: {
            type: "linear",
            min: spec.yMin,
            max: spec.yMax,
            afterBuildTicks: (scale) => {
              scale.ticks = spec.yTicks.map((value) => ({ value }));
            },
            ticks: {
              padding: 5,
              color: AXIS,
              font: tickFont,
              callback: (v) => String(v),
            },
            grid: { color: GRID, lineWidth: 1, drawTicks: false },
            border: { display: true, color: AXIS, width: 1 },
            title: {
              display: true,
              text: ROW_LABELS[spec.row],
              color: AXIS,
              font: { family: SERIF, size: 18, lineHeight: 1.12 },
              padding: { top: 0, bottom: 4 },
            },
          },
          xTop: {
            type: "linear",
            position: "top",
            min: 0,
            max: 1,
            ticks: { display: false },
            grid: { display: false, drawTicks: false },
            border: { display: true, color: AXIS, width: 1 },
          },
          yRight: {
            type: "linear",
            position: "right",
            min: 0,
            max: 1,
            ticks: { display: false },
            grid: { display: false, drawTicks: false },
            border: { display: true, color: AXIS, width: 1 },
          },
        },
      },
    });

    // move and size the canvas so the plot area lands on its subplot box
    const area = chart.chartArea;
    const padRight = chart.width - area.right;
    const padBottom = chart.height - area.bottom;
    wrap.style.left = `${COL_LEFT[spec.col] - area.left}px`;
    wrap.style.top = `${ROW_TOP[spec.row] - area.top}px`;
    wrap.style.width = `${area.left + PLOT_W + padRight}px`;
    wrap.style.height = `${area.top + PLOT_H + padBottom}px`;
    chart.resize();

    return () => {
      chart.destroy();
    };
  }, [spec]);

  return (
    <div ref={wrapRef} style={{ position: "absolute", left: 0, top: 0, width: 620, height: 260 }}>
      <canvas ref={canvasRef} />
    </div>
  );
};

export default function App() {
  return (
    <div
      style={{
        position: "absolute",
        left: 0,
        top: 0,
        width: 1920,
        height: 1046,
        background: "#fff",
        overflow: "hidden",
      }}
    >
      {SHOCKS.map((title, c) => (
        <div
          key={title}
          style={{
            position: "absolute",
            left: COL_LEFT[c] + PLOT_W / 2 - 200,
            top: 30.5,
            width: 400,
            textAlign: "center",
            fontFamily: SERIF,
            fontSize: 36,
            lineHeight: "40px",
            color: "#000",
          }}
        >
          {title}
        </div>
      ))}
      {PANELS.map((p) => (
        <Panel key={`${p.row}-${p.col}`} spec={p} />
      ))}
    </div>
  );
}
